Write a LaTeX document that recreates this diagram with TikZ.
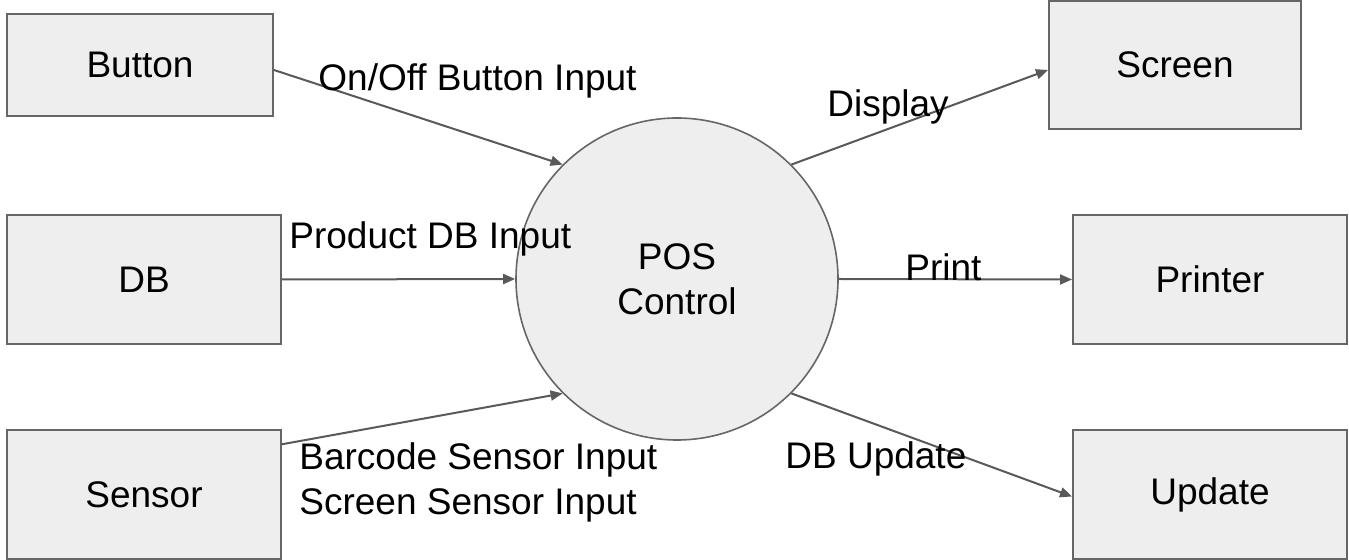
\documentclass[tikz,border=0pt]{standalone}
\usepackage{fontspec}
\setmainfont{Liberation Sans}
\usetikzlibrary{arrows.meta}

\definecolor{boxfill}{HTML}{EEEEEE}
\definecolor{boxline}{HTML}{666666}
\definecolor{flowline}{HTML}{595959}

\tikzset{
  term/.style={draw=boxline, fill=boxfill, line width=1pt, inner sep=0pt,
    minimum width=137pt, minimum height=64.5pt},
  proc/.style={circle, draw=boxline, fill=boxfill, line width=0.8pt, inner sep=0pt,
    minimum size=161pt, align=center},
  flow/.style={->, draw=flowline, line width=1pt},
  lbl/.style={inner sep=0pt, anchor=base west}
}

\begin{document}
\begin{tikzpicture}[x=0.5pt,y=-0.5pt,>={Triangle[length=6pt,width=5pt]},
    font=\fontsize{18.5pt}{22.5pt}\selectfont]
  \useasboundingbox (0,0) rectangle (1349,560);
  % terminators
  \node[term, minimum width=133pt, minimum height=51pt] (button) at (140,65) {Button};
  \node[term] (db)      at (144,279.5) {DB};
  \node[term] (sensor)  at (144,494.5) {Sensor};
  \node[term, minimum width=126pt, minimum height=64pt] (screen) at (1175,65) {Screen};
  \node[term] (printer) at (1210,279.5) {Printer};
  \node[term] (update)  at (1210,494.5) {Update};
  % process
  \node[proc] (pos) at (677,279) {POS\\Control};
  % flows
  \draw[flow] ([yshift=-2.5pt]button.east) -- (pos.135);
  \draw[flow] (db.east) -- (pos.west);
  \draw[flow] (sensor.20) -- (pos.225);
  \draw[flow] (pos.45) -- ([yshift=-2.5pt]screen.west);
  \draw[flow] (pos.east) -- (printer.west);
  \draw[flow] (pos.-45) -- ([yshift=-1pt]update.west);
  % flow labels
  \node[lbl] (onoff)   at (318,91)  {On/Off Button Input};
  \node[lbl] (product) at (289,249) {Product DB Input};
  \node[inner sep=0pt, anchor=west, align=left] (sensing) at (299,482)
    {Barcode Sensor Input\\Screen Sensor Input};
  \node[lbl] (display) at (827,117) {Display};
  \node[lbl] (print)   at (905,281) {Print};
  \node[lbl] (dbupd)   at (785,469) {DB Update};
\end{tikzpicture}
\end{document}
